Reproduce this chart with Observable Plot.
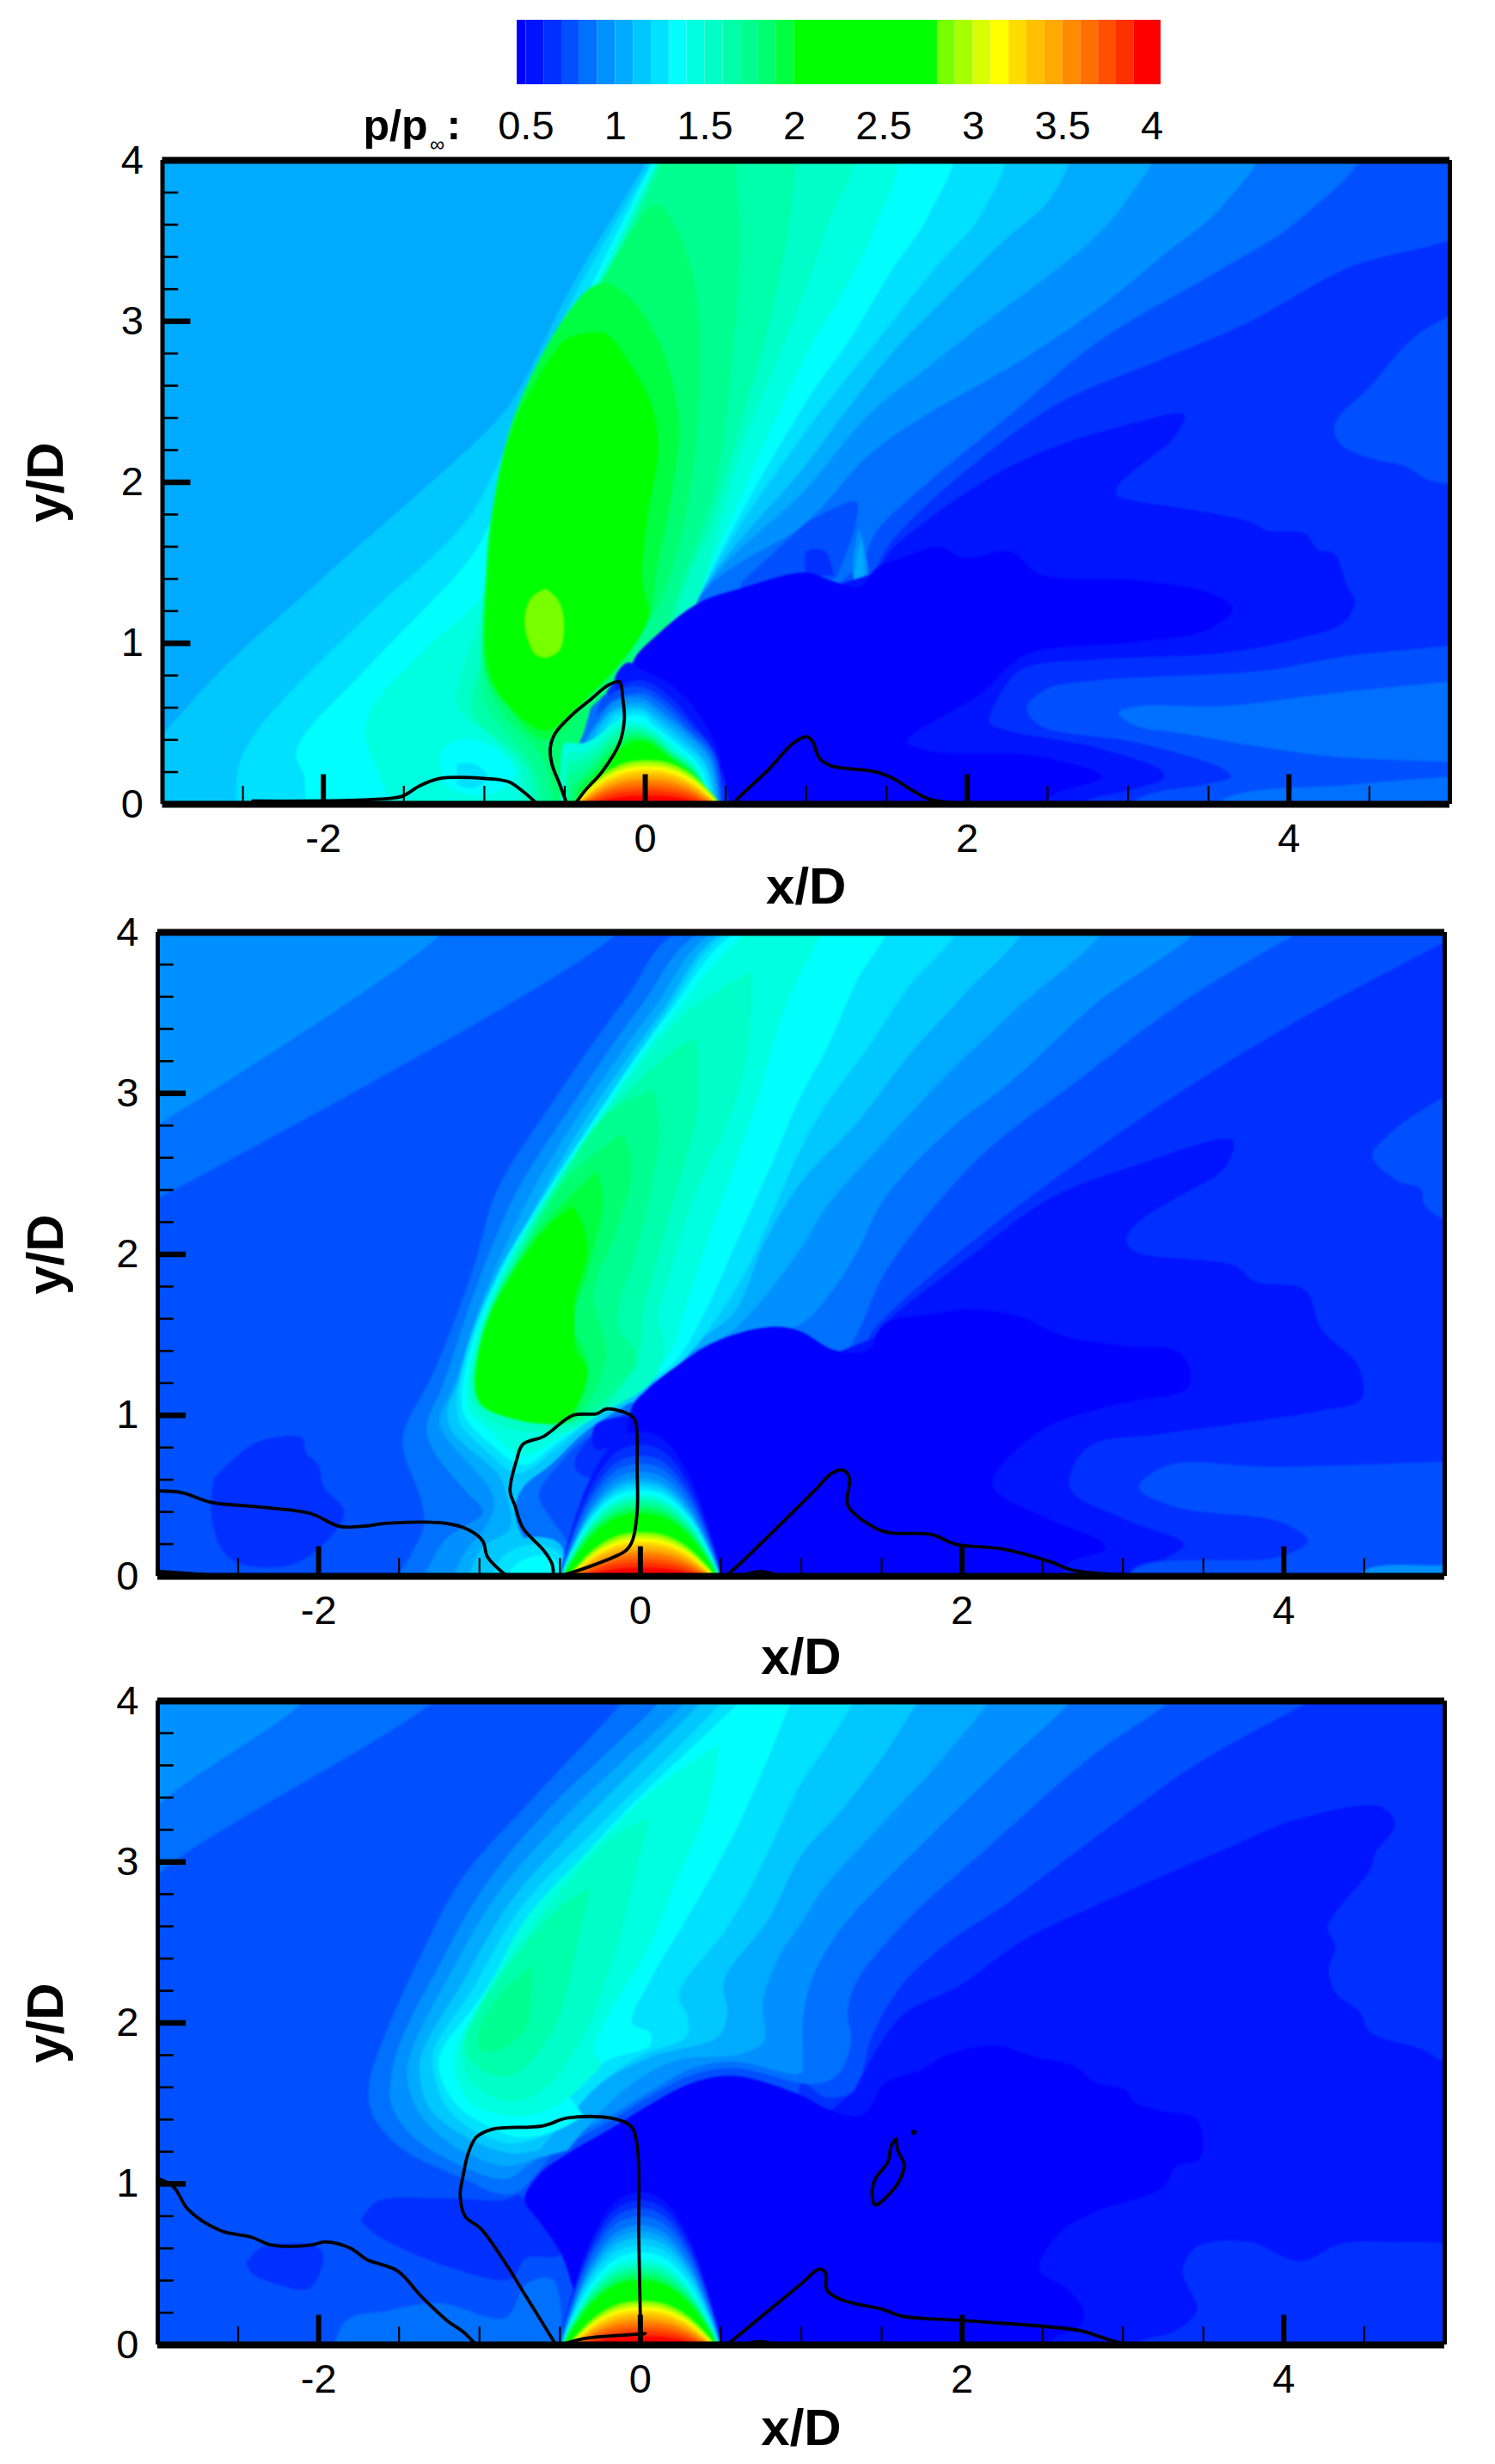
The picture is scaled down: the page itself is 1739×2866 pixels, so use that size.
<!DOCTYPE html>
<html>
<head>
<meta charset="utf-8">
<script src="https://cdn.jsdelivr.net/npm/d3@7"></script>
<script src="https://cdn.jsdelivr.net/npm/@observablehq/plot@0.6"></script>
<style>
html,body{margin:0;padding:0;background:#fff}
#chart{position:relative;width:1739px;height:2866px;overflow:hidden}
#chart svg{position:absolute;left:0;display:block}
</style>
</head>
<body>
<div id="chart"></div>
<script>
// colour bands of p/p_inf
const levels = [0.5,0.6,0.7,0.8,0.9,1.0,1.1,1.2,1.3,1.4,1.5,1.6,1.7,1.8,1.9,2.0,2.8,2.9,3.0,3.1,3.2,3.3,3.4,3.5,3.6,3.7,3.8,3.9];
const bandColors = ["#0000ff","#0014ff","#0030ff","#0050ff","#0070ff","#0090ff","#00aaff","#00c8ff","#00e0ff","#00ffff","#00ffe0","#00ffc8","#00ffaa","#00ff90","#00ff70","#00ff40","#00ff00","#78ff00","#a8ff00","#d8ff00","#ffff00","#ffdc00","#ffc000","#ffaa00","#ff8c00","#ff7000","#ff5000","#ff3000","#ff0000"];
const barTicks = [0.5,1,1.5,2,2.5,3,3.5,4];
const xMajor = [-2,0,2,4], xMinor = [-2.5,-1.5,-1,-0.5,0.5,1,1.5,2.5,3,3.5,4.5];
const yMajor = [1,2,3], yMinor = [0.2,0.4,0.6,0.8,1.2,1.4,1.6,1.8,2.2,2.4,2.6,2.8,3.2,3.4,3.6,3.8];
// normalised profile of the jet dome: [fraction of half width, fraction of apex height]
const domeProfile = [[-1,-0.3],[-1,0],[-0.85,0.33],[-0.6,0.7],[-0.3,0.94],[0,1],[0.3,0.94],[0.6,0.7],[0.85,0.33],[1,0],[1,-0.3]];
// jet dome bands: [value, left foot, right foot, apex height]
const jetCore = [[2.85,-0.44,0.46,0.275],[2.95,-0.43,0.45,0.26],[3.05,-0.43,0.45,0.245],[3.15,-0.42,0.44,0.23],[3.25,-0.42,0.44,0.215],[3.35,-0.41,0.43,0.195],[3.45,-0.41,0.43,0.175],[3.55,-0.4,0.42,0.155],[3.65,-0.39,0.41,0.135],[3.75,-0.38,0.4,0.11],[3.85,-0.36,0.38,0.085],[3.95,-0.33,0.35,0.055]];
const p2Dome = [[0.55,-0.5,0.5,0.9],[0.65,-0.5,0.5,0.82],[0.75,-0.5,0.5,0.75],[0.85,-0.5,0.5,0.7],[0.95,-0.49,0.49,0.65],[1.05,-0.49,0.49,0.61],[1.15,-0.49,0.49,0.585],[1.25,-0.49,0.49,0.56],[1.35,-0.49,0.49,0.535],[1.45,-0.49,0.49,0.51],[1.55,-0.48,0.48,0.49],[1.65,-0.48,0.48,0.475],[1.75,-0.48,0.48,0.455],[1.85,-0.48,0.48,0.435],[1.95,-0.47,0.47,0.415],[2.4,-0.47,0.47,0.39]];
const p3Dome = [[0.55,-0.5,0.5,0.95],[0.65,-0.5,0.5,0.9],[0.75,-0.5,0.5,0.85],[0.85,-0.5,0.5,0.8],[0.95,-0.49,0.49,0.745],[1.05,-0.49,0.49,0.705],[1.15,-0.49,0.49,0.665],[1.25,-0.49,0.49,0.62],[1.35,-0.48,0.48,0.575],[1.45,-0.48,0.48,0.535],[1.55,-0.48,0.48,0.51],[1.65,-0.48,0.48,0.485],[1.75,-0.48,0.48,0.465],[1.85,-0.48,0.48,0.445],[1.95,-0.47,0.47,0.42],[2.4,-0.47,0.47,0.4]];

// contour regions, painted in order: [value, x,y, x,y, ...] in x/D, y/D
const p1Rings = [
[0.65,-3.2,-0.2,-3.2,4.2,5.2,4.2,5.2,-0.2],
[0.75,-3.2,-0.2,-3.2,4.2,5.2,4.2,5.2,3.63,4.36,3.33,3.74,2.99,3.2,2.76,2.55,2.48,1.85,1.95,1.52,1.62,1.39,1.41,1.0,1.2,-0.2,-0.2],
[0.75,5.2,3.12,4.8,2.92,4.49,2.58,4.32,2.42,4.28,2.32,4.34,2.22,4.54,2.14,4.72,2.1,4.88,2.01,5.2,1.98],
[0.85,-3.2,-0.2,-3.2,4.2,4.45,4.1,4.05,3.62,3.59,3.33,2.81,2.87,2.27,2.42,1.77,2.01,1.44,1.7,1.34,1.5,1.0,1.2,-0.2,-0.2],
[0.95,-3.2,-0.2,-3.2,4.2,3.8,4.1,3.59,3.72,3.22,3.41,2.84,3.1,2.34,2.76,1.75,2.42,1.39,2.17,1.0,1.75,0.33,1.28,-0.2,-0.2],
[1.05,-3.2,-0.2,-3.2,4.2,3.15,4.1,2.99,3.75,2.76,3.49,2.5,3.28,2.11,2.99,1.75,2.71,1.39,2.42,1.0,1.96,0.33,1.28,-0.2,-0.2],
[1.15,-3.2,0.2,-2.65,0.82,-2.0,1.41,-0.89,2.42,-0.76,2.62,-0.45,3.23,0,3.98,0.06,4.1,2.62,4.1,2.53,3.78,2.24,3.51,1.9,3.18,1.54,2.81,1.23,2.42,1.0,2.11,0.33,1.28,-0.2,-0.2,-3.2,-0.2],
[1.25,-2.53,-0.2,-2.53,0.22,-2.41,0.46,-1.74,1.16,-1.12,1.75,-0.89,2.17,-0.72,2.55,-0.45,3.14,0.03,3.98,0.09,4.1,2.22,4.1,2.09,3.67,1.8,3.33,1.49,2.94,1.0,2.32,0.33,1.28,-0.2,-0.2],
[1.35,-2.12,-0.2,-2.12,0.17,-2.17,0.3,-2.14,0.4,-1.66,0.92,-1.04,1.6,-0.86,2.06,-0.68,2.48,-0.42,3.05,0.04,3.98,0.1,4.1,1.9,4.1,1.75,3.64,1.54,3.33,1.26,2.87,1.0,2.5,0.33,1.28,-0.2,-0.2],
[1.45,-1.48,-0.2,-1.66,0.2,-1.74,0.43,-1.69,0.61,-1.38,0.95,-0.99,1.34,-0.94,1.7,-0.81,2.11,-0.63,2.5,-0.4,3.03,0.06,3.98,0.12,4.1,1.55,4.1,1.41,3.54,1.23,3.18,1.0,2.79,0.33,1.28,-0.2,-0.2],
[1.55,-0.84,-0.2,-0.78,0.22,-1.17,0.61,-1.17,0.72,-1.02,1.18,-0.97,1.44,-0.93,1.7,-0.78,2.11,-0.6,2.5,-0.37,3.03,0.07,3.98,0.12,4.1,1.3,4.1,1.13,3.59,1.0,3.2,0.6,2.2,0.33,1.28,-0.2,-0.2],
[1.65,-0.69,-0.2,-0.73,0.22,-1.07,0.56,-1.07,0.72,-0.99,0.97,-0.97,1.34,-0.9,1.73,-0.77,2.14,-0.59,2.53,-0.36,3.03,0.08,3.98,0.13,4.1,0.98,4.1,0.94,3.98,0.9,3.64,0.77,2.99,0.59,2.35,0.41,1.75,0.23,1.31,-0.2,-0.2],
[1.75,-0.63,-0.2,-0.68,0.2,-0.99,0.61,-1.02,0.77,-1.0,1.18,-0.94,1.7,-0.76,2.22,-0.55,2.74,-0.34,3.07,0.1,3.98,0.15,4.1,0.6,4.1,0.57,3.98,0.59,3.51,0.54,2.74,0.43,1.96,0.25,1.44,0.2,1.3,-0.2,-0.2],
[1.35,-1.28,0.3,-1.2,0.39,-1.07,0.4,-0.91,0.33,-0.81,0.2,-0.9,0.09,-1.1,0.06,-1.25,0.12],
[1.25,-1.17,0.25,-1.06,0.25,-0.98,0.17,-1.07,0.1,-1.17,0.12],
[1.85,-0.55,-0.2,-0.63,0.27,-0.86,0.53,-0.97,0.72,-1.0,0.97,-0.97,1.57,-0.73,2.35,-0.45,2.94,-0.24,3.31,0.07,3.73,0.17,3.62,0.3,3.28,0.34,2.74,0.3,2.09,0.2,1.57,0.07,1.21,-0.06,1.0,-0.2,-0.2],
[1.95,-0.25,3.24,-0.34,3.21,-0.47,3.07,-0.71,2.66,-0.86,2.27,-0.97,1.7,-0.99,1.44,-0.99,0.82,-0.86,0.61,-0.62,0.4,-0.32,0.69,-0.06,1.0,0.03,1.18,0.07,1.44,0.17,1.96,0.21,2.37,0.12,2.79,-0.03,3.07,-0.16,3.2,-0.25,3.24],
[2.4,-0.34,2.93,-0.49,2.89,-0.63,2.71,-0.81,2.37,-0.91,2.01,-0.98,1.44,-0.98,0.87,-0.89,0.66,-0.62,0.46,-0.34,0.69,-0.19,0.84,0.02,1.16,-0.02,1.39,0.01,1.75,0.08,2.22,0.04,2.48,-0.11,2.76,-0.24,2.92,-0.34,2.93],
[2.85,-0.62,1.34,-0.71,1.28,-0.75,1.13,-0.69,0.94,-0.63,0.91,-0.53,0.96,-0.51,1.18,-0.55,1.28,-0.62,1.34],
[0.75,1.0,1.75,1.31,1.88,1.31,1.75,1.22,1.49,1.18,1.41,1.0,1.35,0.6,1.3,0.6,1.38],
[0.95,1.33,1.72,1.29,1.5,1.31,1.37,1.38,1.4,1.36,1.6],
[1.05,1.345,1.66,1.31,1.5,1.3,1.4,1.33,1.37,1.36,1.42,1.355,1.55],
[0.65,1.0,1.42,1.0,1.57,1.12,1.57,1.17,1.42],
[0.55,1.44,1.44,1.52,1.57,1.77,1.78,2.03,1.96,2.29,2.11,2.6,2.24,2.97,2.35,3.35,2.42,3.28,2.27,3.12,2.14,2.94,1.98,2.93,1.92,3.07,1.88,3.33,1.84,3.74,1.76,3.87,1.7,4.1,1.68,4.18,1.58,4.28,1.56,4.36,1.36,4.41,1.26,4.34,1.13,4.1,1.04,3.59,0.94,2.81,0.9,2.34,0.84,2.21,0.69,2.14,0.51,2.24,0.46,2.81,0.35,3.22,0.2,3.22,0.16,3.02,0.09,2.71,0,2.65,-0.2,1.0,-0.2,1.0,1.3],
[0.75,5.2,1.0,4.36,0.92,3.84,0.83,2.81,0.77,2.5,0.72,2.37,0.6,2.45,0.49,3.07,0.38,3.59,0.22,3.64,0.17,3.46,0.12,3.07,0.04,2.81,-0.2,5.2,-0.2],
[0.85,5.2,0.78,4.36,0.7,3.59,0.61,3.07,0.61,2.94,0.57,3.04,0.49,3.33,0.44,4.23,0.3,5.2,0.26],
[0.85,5.2,0.18,4.98,0.17,4.36,0.12,3.59,0.03,3.4,-0.2,5.2,-0.2],
[0.45,-0.1,-0.2,-0.1,0.75,-0.07,0.9,0.07,1.05,0.33,1.25,0.59,1.34,1.0,1.44,1.15,1.39,1.33,1.35,1.44,1.47,1.62,1.54,1.83,1.6,1.98,1.53,2.27,1.57,2.45,1.43,3.07,1.39,3.51,1.31,3.65,1.22,3.51,1.09,3.07,1.01,2.55,0.97,2.34,0.92,2.09,0.69,1.63,0.39,1.77,0.33,2.42,0.3,2.84,0.17,2.5,0.04,2.34,-0.2],
[0.85,-0.34,0.6,-0.38,0.45,-0.43,0.32,-0.43,-0.2,0.48,-0.2,0.3,0.6,-0.02,0.8,-0.17,0.76],
[0.75,-0.27,0.66,-0.3,0.56,-0.25,-0.2,0.49,-0.2,0.44,0.3,0.29,0.5,0.13,0.66,-0.02,0.74,-0.17,0.73],
[0.65,-0.24,0.7,-0.2,0.55,-0.15,-0.2,0.49,-0.2,0.45,0.3,0.31,0.53,0.14,0.7,-0.02,0.78,-0.17,0.8],
[0.55,0.5,-0.2,0.48,0,0.46,0.3,0.33,0.56,0.15,0.75,-0.01,0.83,-0.11,0.88,-0.19,0.78,-0.15,0.6,-0.1,-0.2],
[0.65,0.49,-0.2,0.44,0.3,0.3,0.5,0.14,0.68,-0.02,0.77,-0.14,0.74,-0.19,0.62,-0.15,-0.2],
[0.75,0.49,-0.2,0.44,0.3,0.29,0.48,0.13,0.64,-0.02,0.73,-0.19,0.7,-0.27,0.58,-0.25,-0.2],
[0.85,0.48,-0.2,0.42,0.3,0.27,0.46,0.12,0.61,-0.02,0.69,-0.19,0.65,-0.3,0.55,-0.38,0.43,-0.43,0.32,-0.43,-0.2],
[0.95,0.48,-0.2,0.41,0.28,0.25,0.46,0.1,0.58,-0.02,0.66,-0.19,0.64,-0.3,0.51,-0.37,0.41,-0.42,0.3,-0.42,-0.2],
[1.05,0.47,-0.2,0.4,0.27,0.24,0.44,0.09,0.56,-0.02,0.63,-0.19,0.6,-0.29,0.5,-0.36,0.4,-0.41,0.27,-0.41,-0.2],
[1.15,0.47,-0.2,0.38,0.25,0.22,0.42,0.08,0.53,-0.02,0.6,-0.19,0.58,-0.29,0.47,-0.34,0.37,-0.39,0.24,-0.39,-0.2],
[1.25,0.46,-0.2,0.37,0.24,0.2,0.4,0.07,0.51,-0.02,0.58,-0.19,0.55,-0.26,0.45,-0.31,0.37,-0.36,0.22,-0.36,-0.2],
[1.35,0.46,-0.2,0.35,0.22,0.19,0.38,0.05,0.49,-0.02,0.55,-0.16,0.53,-0.24,0.43,-0.29,0.33,-0.33,0.2,-0.34,-0.2],
[1.45,0.46,-0.2,0.33,0.22,0.17,0.37,0.03,0.48,-0.1,0.52,-0.2,0.5,-0.3,0.42,-0.38,0.38,-0.44,0.38,-0.5,0.38,-0.52,0.3,-0.52,-0.2],
[1.55,0.46,-0.2,0.33,0.2,0.16,0.35,0.03,0.46,-0.1,0.49,-0.2,0.46,-0.3,0.38,-0.38,0.33,-0.46,0.32,-0.5,0.28,-0.5,-0.2],
[1.65,0.46,-0.2,0.33,0.19,0.15,0.34,0.02,0.45,-0.1,0.47,-0.2,0.43,-0.3,0.34,-0.4,0.28,-0.48,0.25,-0.48,-0.2],
[1.75,0.46,-0.2,0.33,0.18,0.15,0.33,0.02,0.43,-0.1,0.45,-0.2,0.4,-0.3,0.3,-0.4,0.22,-0.47,0.18,-0.47,-0.2],
[1.85,0.46,-0.2,0.33,0.17,0.15,0.32,0.02,0.42,-0.1,0.43,-0.2,0.37,-0.3,0.26,-0.4,0.16,-0.46,0.1,-0.46,-0.2],
[1.95,0.46,-0.2,0.33,0.16,0.15,0.31,0.02,0.4,-0.1,0.41,-0.2,0.34,-0.3,0.22,-0.42,0.08,-0.44,-0.2],
[2.4,0.46,-0.2,0.33,0.14,0.15,0.29,0.0,0.39,-0.1,0.38,-0.2,0.3,-0.3,0.18,-0.4,0.04,-0.42,-0.2]
];
const p2Rings = [
[0.75,-3.2,-0.2,-3.2,4.2,5.2,4.2,5.2,-0.2],
[0.95,-3.2,2.68,-1.25,3.98,-1.1,4.2,-3.2,4.2],
[0.85,-3.2,2.24,-0.16,3.98,0,4.2,-3.2,4.2],
[0.95,-3.2,2.68,-1.25,3.98,-1.1,4.2,-3.2,4.2],
[0.65,-2.65,0.61,-2.41,0.82,-2.21,0.87,-2.1,0.86,-2.08,0.77,-2.0,0.69,-1.97,0.56,-1.84,0.4,-1.97,0.2,-2.18,0.07,-2.52,0.09,-2.62,0.2,-2.67,0.43,-2.65,0.61],
[0.65,1.0,1.3,1.39,1.41,1.44,1.52,1.65,1.73,2.04,2.06,2.55,2.45,3.33,2.99,4.1,3.46,4.98,3.93,5.2,4.05,5.2,-0.2,0.3,-0.2],
[0.75,5.2,3.08,4.98,2.97,4.67,2.76,4.55,2.61,4.72,2.45,4.85,2.41,4.88,2.3,5.2,2.1],
[0.85,-1.64,-0.2,-1.35,0.3,-1.36,0.46,-1.47,0.77,-1.47,0.9,-1.28,1.28,-1.04,1.91,-0.89,2.4,-0.55,2.94,-0.09,3.59,0.28,4.03,4.3,4.1,4.06,3.98,3.33,3.54,2.68,3.05,2.17,2.66,1.78,2.24,1.5,1.85,1.34,1.49,1.2,1.3,0.3,0.9,0.3,-0.2],
[0.95,-1.43,-0.2,-1.22,0.22,-0.98,0.4,-1.07,0.51,-1.28,0.77,-1.33,0.92,-1.22,1.21,-1.02,1.8,-0.78,2.37,-0.45,2.89,0,3.54,0.43,4.03,3.5,4.1,2.81,3.54,2.3,3.07,1.94,2.79,1.52,2.35,1.34,2.0,1.16,1.73,1.0,1.57,0.2,1.25,0.3,-0.2],
[1.05,-1.25,-0.2,-1.09,0.15,-0.97,0.3,-0.91,0.48,-1.22,0.88,-1.25,0.97,-1.15,1.21,-0.97,1.75,-0.71,2.32,-0.42,2.81,0.07,3.51,0.51,4.03,2.9,4.1,2.3,3.49,1.91,3.12,1.5,2.68,1.16,2.3,1.0,2.04,0.59,1.54,0.2,1.28,0.2,-0.2],
[1.15,-1.12,-0.2,-0.99,0.17,-0.81,0.3,-0.84,0.53,-0.89,0.64,-1.17,0.9,-1.2,1.03,-1.13,1.21,-0.94,1.73,-0.65,2.3,-0.37,2.79,0.12,3.49,0.56,4.03,2.4,4.1,1.99,3.59,1.68,3.25,1.34,2.81,1.0,2.45,0.77,2.07,0.59,1.65,0.2,1.28,0.2,-0.2],
[1.25,-0.34,0.95,-0.55,0.77,-0.76,0.64,-0.97,0.79,-1.12,0.95,-1.14,1.1,-1.07,1.44,-0.89,1.88,-0.63,2.32,-0.34,2.76,0.13,3.46,0.59,4.03,2.0,4.1,1.65,3.64,1.39,3.25,1.16,2.94,1.0,2.66,0.8,2.21,0.62,1.83,0.2,1.28,-0.1,1.15],
[1.35,-0.29,0.99,-0.53,0.82,-0.73,0.69,-0.94,0.83,-1.09,0.99,-1.11,1.13,-1.04,1.47,-0.86,1.91,-0.59,2.37,-0.32,2.79,0.17,3.49,0.64,4.03,1.55,4.1,1.34,3.69,1.16,3.28,1.0,2.99,0.82,2.57,0.59,2.06,0.43,1.7,0.2,1.32,-0.1,1.15],
[1.45,-0.27,1.0,-0.5,0.86,-0.73,0.75,-0.93,0.9,-1.07,1.03,-1.08,1.16,-1.02,1.49,-0.84,1.93,-0.56,2.4,-0.29,2.81,0.21,3.5,0.72,4.03,1.2,4.1,1.12,3.98,0.89,3.51,0.72,2.94,0.46,2.2,0.3,1.73,0.2,1.42,0.12,1.3,-0.1,1.15],
[1.55,0.69,3.76,0.25,3.47,-0.27,2.81,-0.55,2.4,-0.81,1.96,-0.99,1.54,-1.06,1.16,-1.03,1.05,-0.89,0.94,-0.47,0.9,-0.21,1.03,0.07,1.21,0.15,1.41,0.11,1.62,0.17,1.83,0.33,2.35,0.51,2.74,0.64,3.12,0.69,3.51,0.69,3.76],
[1.65,0.35,3.34,0.23,3.28,-0.24,2.84,-0.53,2.42,-0.78,1.98,-0.97,1.57,-1.04,1.16,-0.99,1.05,-0.71,0.97,-0.42,0.95,-0.19,1.08,-0.01,1.39,0.02,1.65,0.1,1.96,0.23,2.42,0.35,2.87,0.35,3.34],
[1.75,0.08,3.02,-0.21,2.87,-0.49,2.45,-0.75,2.01,-0.94,1.62,-1.03,1.18,-0.97,1.06,-0.63,0.96,-0.4,0.97,-0.19,1.13,-0.02,1.34,-0.14,1.57,-0.03,2.01,0.07,2.42,0.12,2.79,0.08,3.02],
[1.85,-0.11,2.75,-0.45,2.48,-0.72,2.04,-0.93,1.65,-1.02,1.19,-0.97,1.06,-0.63,0.95,-0.42,0.97,-0.21,1.36,-0.29,1.75,-0.14,2.17,-0.05,2.55,-0.11,2.75],
[1.95,-0.27,2.52,-0.45,2.35,-0.71,2.04,-0.91,1.67,-1.02,1.21,-0.97,1.06,-0.63,0.95,-0.45,0.96,-0.34,1.18,-0.33,1.34,-0.42,1.57,-0.32,1.91,-0.23,2.35,-0.27,2.52],
[2.4,-0.42,2.3,-0.58,2.17,-0.76,1.93,-0.94,1.62,-1.02,1.31,-1.02,1.13,-0.97,1.05,-0.63,0.95,-0.45,0.99,-0.33,1.28,-0.4,1.41,-0.41,1.57,-0.4,1.75,-0.33,2.01,-0.36,2.19,-0.42,2.3],
[0.55,1.45,1.48,1.52,1.57,2.04,1.98,2.55,2.35,3.07,2.55,3.68,2.71,3.66,2.58,3.59,2.5,3.33,2.35,3.12,2.22,3.02,2.1,3.07,2.02,3.69,1.93,3.82,1.83,4.13,1.78,4.23,1.54,4.46,1.31,4.48,1.1,4.23,1.03,3.72,0.95,3.2,0.88,2.81,0.82,2.68,0.66,2.68,0.53,3.02,0.35,3.38,0.2,3.28,0.12,3.05,0.04,3.0,-0.2,1.0,-0.2,1.0,1.3],
[0.75,5.2,0.72,3.95,0.68,3.28,0.69,3.1,0.55,3.33,0.43,3.97,0.34,4.15,0.22,3.97,0.12,3.07,0.04,3.0,-0.2,5.2,-0.2],
[0.95,4.4,-0.2,4.49,0.03,4.98,0.07,5.2,0.08,5.2,-0.2],
[0.85,-0.06,1.08,-0.34,0.9,-0.55,0.7,-0.73,0.55,-0.78,0.4,-0.71,0.22,-0.58,0.15,-0.47,-0.2,0,-0.2,0,1.08],
[0.75,-0.11,1.01,-0.34,0.86,-0.51,0.69,-0.63,0.51,-0.55,0.35,-0.45,0.2,-0.4,-0.2,0,-0.2,0,1.0],
[0.65,-0.11,0.99,-0.29,0.88,-0.4,0.74,-0.4,0.66,-0.29,0.61,-0.19,0.66,-0.06,0.66,0,0.66,0,1.0],
[0.55,-0.06,1.0,-0.28,0.94,-0.28,0.79,-0.06,0.84,0.1,0.8,0.1,1.0],
[0.45,-0.06,-0.2,-0.06,1.03,0.04,1.16,0.23,1.31,0.43,1.44,0.64,1.52,0.85,1.55,1.0,1.52,1.19,1.41,1.34,1.39,1.42,1.41,1.52,1.57,1.83,1.63,2.04,1.66,2.37,1.61,2.61,1.5,3.02,1.43,3.33,1.4,3.42,1.28,3.39,1.16,3.07,1.09,2.81,1.03,2.48,0.9,2.19,0.57,2.55,0.35,2.86,0.22,2.89,0.17,2.65,0.07,2.55,-0.2],
[1.15,-1.07,-0.2,-0.91,0.15,-0.71,0.24,-0.5,0.2,-0.45,-0.2],
[1.25,-0.99,-0.2,-0.86,0.12,-0.65,0.2,-0.48,0.12,-0.46,-0.2],
[1.35,-0.88,-0.2,-0.78,0.07,-0.6,0.13,-0.5,0.07,-0.48,-0.2]
];
const p3Rings = [
[0.75,-3.2,-0.2,-3.2,4.2,5.2,4.2,5.2,-0.2],
[0.85,-3.2,2.74,-2.89,3.01,-1.28,4.0,-1.1,4.2,-3.2,4.2],
[0.95,-3.2,3.1,-2.99,3.36,-2.09,4.0,-1.95,4.2,-3.2,4.2],
[0.65,-2.45,0.51,-2.35,0.61,-2.01,0.61,-1.97,0.54,-2.06,0.35,-2.27,0.38,-2.42,0.45,-2.45,0.51],
[0.65,-1.74,0.77,-1.64,0.89,-1.23,0.91,-0.84,0.9,-0.76,0.93,-0.72,0.9,-0.5,0.56,-0.71,0.54,-0.81,0.41,-1.18,0.48,-1.62,0.67,-1.74,0.77],
[0.85,-1.96,-0.2,-1.83,0.15,-1.59,0.21,-1.25,0.26,-0.84,0.17,-0.71,0.38,-0.55,0.41,-0.5,0.28,-0.49,-0.2],
[0.65,1.0,1.3,1.0,1.63,1.15,1.54,1.33,1.58,1.44,1.92,1.62,2.23,1.9,2.49,2.29,2.75,2.81,3.14,3.46,3.61,4.17,4.0,4.35,4.1,5.2,4.1,5.2,-0.2,1.0,-0.2],
[0.85,-0.55,1.19,-0.76,0.95,-0.89,0.94,-1.07,1.02,-1.44,1.19,-1.59,1.32,-1.68,1.47,-1.68,1.66,-1.59,1.92,-1.38,2.39,-1.1,2.91,-0.71,3.35,-0.11,4.0,-0.05,4.1,3.4,4.1,3.3,4.0,2.81,3.66,2.16,3.09,1.64,2.62,1.33,2.23,1.29,2.05,1.31,1.89,1.23,1.68,1.07,1.62,0.59,1.72,0.33,1.68,0.07,1.55,-0.19,1.39,-0.45,1.25],
[0.95,-0.71,1.11,-0.84,1.03,-1.23,1.17,-1.44,1.32,-1.55,1.5,-1.55,1.66,-1.49,1.89,-1.25,2.36,-0.97,2.85,-0.58,3.32,0.12,4.0,0.18,4.1,2.75,4.1,2.68,4.0,2.21,3.56,1.75,3.11,1.25,2.59,1.07,2.28,1.01,2.02,1.01,1.79,1.0,1.69,0.59,1.76,0.33,1.72,0.07,1.58,-0.19,1.42,-0.45,1.29],
[1.05,-0.71,1.14,-0.84,1.11,-1.18,1.25,-1.38,1.45,-1.45,1.68,-1.41,1.86,-1.18,2.31,-0.89,2.8,-0.45,3.3,0.28,4.0,0.35,4.1,2.22,4.1,2.17,4.0,1.85,3.61,1.46,3.19,1.15,2.85,1.0,2.62,0.85,2.39,0.76,2.12,0.77,1.89,0.64,1.81,0.2,1.76,-0.14,1.55,-0.45,1.21],
[1.15,-0.63,1.21,-0.81,1.19,-1.1,1.3,-1.31,1.47,-1.37,1.66,-1.36,1.81,-1.1,2.26,-0.81,2.75,-0.37,3.24,0.38,4.0,0.45,4.1,1.8,4.1,1.73,4.0,1.51,3.66,1.25,3.32,1.0,3.04,0.8,2.65,0.52,2.26,0.54,2.07,0.49,1.92,0.07,1.79,-0.24,1.63,-0.45,1.42],
[1.25,-0.5,1.34,-0.79,1.25,-1.05,1.34,-1.2,1.47,-1.27,1.63,-1.29,1.81,-1.05,2.2,-0.74,2.72,-0.24,3.24,0.51,4.0,0.58,4.1,1.38,4.1,1.33,4.0,1.15,3.71,1.0,3.49,0.72,2.91,0.54,2.59,0.24,2.18,0.29,2.05,0.29,1.92,-0.01,1.79,-0.24,1.63,-0.37,1.5],
[1.35,-0.35,1.42,-0.55,1.32,-0.76,1.29,-0.97,1.37,-1.11,1.46,-1.23,1.63,-1.25,1.79,-1.0,2.15,-0.66,2.67,-0.14,3.27,0.62,4.0,0.7,4.1,1.0,4.1,0.94,4.0,0.8,3.66,0.59,3.19,0.33,2.72,0.07,2.28,-0.05,2.0,0.06,1.94,0.06,1.86,-0.22,1.76,-0.45,1.55],
[1.45,0.49,3.73,0.12,3.48,-0.35,3.04,-0.71,2.65,-0.94,2.23,-1.14,1.86,-1.16,1.73,-1.05,1.5,-0.76,1.42,-0.55,1.47,-0.35,1.62,-0.24,1.76,-0.29,1.81,-0.19,2.07,0.04,2.44,0.2,2.83,0.41,3.32,0.49,3.73],
[1.55,0.06,3.27,-0.16,3.17,-0.53,2.78,-0.86,2.33,-1.05,2.02,-1.11,1.81,-1.05,1.63,-0.79,1.51,-0.55,1.63,-0.42,1.81,-0.29,2.05,-0.14,2.49,-0.01,3.01,0.06,3.27],
[1.65,-0.31,2.84,-0.5,2.72,-0.84,2.33,-1.02,2.05,-1.09,1.84,-0.97,1.7,-0.79,1.68,-0.55,1.94,-0.45,2.23,-0.37,2.59,-0.31,2.84],
[1.75,-0.67,2.36,-0.89,2.15,-1.01,1.92,-0.99,1.83,-0.86,1.84,-0.71,1.97,-0.68,2.15,-0.67,2.36],
[0.55,1.33,1.58,1.62,2.04,1.98,2.23,2.39,2.52,2.81,2.72,3.59,3.06,4.1,3.27,4.61,3.34,4.69,3.23,4.57,3.06,4.54,2.96,4.31,2.67,4.27,2.59,4.32,2.48,4.28,2.33,4.32,2.19,4.47,2.07,4.54,1.94,4.85,1.84,4.98,1.77,5.2,1.75,5.2,0.68,4.83,0.64,4.36,0.63,4.1,0.52,3.79,0.64,3.46,0.61,3.37,0.46,3.46,0.22,3.33,0.09,3.07,0,3.02,-0.2,1.0,-0.2,1.0,1.3],
[0.45,-0.2,-0.2,-0.4,0.3,-0.49,0.56,-0.63,0.77,-0.72,0.9,-0.63,1.06,-0.45,1.19,-0.19,1.34,0.07,1.5,0.33,1.63,0.59,1.67,1.0,1.55,1.15,1.47,1.36,1.42,1.44,1.49,1.51,1.62,1.75,1.71,1.9,1.8,2.21,1.86,2.45,1.79,2.7,1.73,2.83,1.63,3.02,1.58,3.07,1.51,3.25,1.45,3.46,1.4,3.48,1.16,3.33,1.11,3.25,0.98,2.81,0.82,2.6,0.69,2.48,0.47,2.65,0.35,2.76,0.2,2.73,0.12,2.55,0.02,2.5,-0.2]
];
// black sonic-line traces: x,y, x,y, ...
const p1Lines = [
[-2.44,0.02,-2.08,0.02,-1.69,0.03,-1.51,0.05,-1.41,0.11,-1.28,0.16,-0.99,0.16,-0.85,0.14,-0.76,0.08,-0.68,0.01],
[-0.49,0.01,-0.53,0.12,-0.58,0.25,-0.59,0.35,-0.56,0.44,-0.45,0.56,-0.34,0.65,-0.23,0.74,-0.16,0.76,-0.14,0.66,-0.13,0.53,-0.16,0.38,-0.27,0.2,-0.37,0.09,-0.43,0.01],
[0.55,0.01,0.61,0.07,0.77,0.22,0.92,0.38,1.0,0.42,1.04,0.39,1.08,0.29,1.15,0.24,1.44,0.2,1.54,0.16,1.67,0.08,1.77,0.03,1.9,0.01]
];
const p2Lines = [
[-2.98,0.53,-2.85,0.52,-2.67,0.46,-2.36,0.43,-2.05,0.39,-1.87,0.31,-1.74,0.31,-1.56,0.33,-1.22,0.33,-1.07,0.29,-0.98,0.22,-0.95,0.12,-0.84,0.01],
[-2.98,0.03,-2.7,0.01],
[-0.54,0.01,-0.55,0.08,-0.6,0.16,-0.73,0.3,-0.78,0.44,-0.81,0.53,-0.77,0.72,-0.73,0.82,-0.6,0.87,-0.42,1.0,-0.27,1.01,-0.21,1.04,-0.06,1.0,-0.03,0.96,-0.02,0.66,-0.02,0.4,-0.05,0.22,-0.09,0.16,-0.29,0.07,-0.47,0.01],
[0.54,0.01,0.61,0.07,1.0,0.45,1.1,0.55,1.19,0.64,1.26,0.66,1.3,0.61,1.29,0.44,1.46,0.3,1.55,0.27,1.81,0.26,1.96,0.2,2.25,0.17,2.55,0.09,2.68,0.04,3.0,0.01],
[0.62,0,0.74,0.03,0.88,0]
];
const p3Lines = [
[-2.99,1.03,-2.9,0.98,-2.81,0.84,-2.61,0.71,-2.42,0.67,-2.29,0.62,-2.05,0.62,-1.96,0.64,-1.8,0.6,-1.7,0.53,-1.51,0.46,-1.36,0.3,-1.2,0.15,-1.1,0.08,-1.03,0.01],
[-0.53,0.01,-0.71,0.3,-0.84,0.51,-0.99,0.72,-1.09,0.8,-1.12,0.93,-1.1,1.06,-1.07,1.19,-1.02,1.29,-0.92,1.34,-0.61,1.36,-0.45,1.41,-0.19,1.41,-0.06,1.36,-0.02,1.24,-0.01,0.67,0,0.15,0,0.07,0.03,0.07,-0.35,0.04,-0.46,0.01],
[0.55,0.01,1.0,0.38,1.11,0.47,1.15,0.45,1.16,0.34,1.25,0.28,1.51,0.22,1.62,0.18,2.03,0.15,2.73,0.09,2.86,0.05,3.0,0.01,3.12,0.01],
[1.59,1.28,1.56,1.24,1.54,1.14,1.46,1.03,1.44,0.95,1.46,0.87,1.55,0.94,1.62,1.04,1.64,1.12,1.6,1.21,1.59,1.28],
[0.62,0,0.74,0.02,0.86,0]
];
const p3Dot = [[1.7,1.32]];

const FONT = "'Liberation Sans', Arial, sans-serif";
const colorScale = {type:"threshold", domain:levels, range:bandColors};

function ringPoints(rings){
  const out=[];
  rings.forEach((r,i)=>{ for(let k=1;k<r.length;k+=2) out.push({id:i,v:r[0],x:r[k],y:r[k+1]}); });
  return out;
}
function domeRings(list){
  return list.map(([v,xL,xR,h])=>{
    const c=(xL+xR)/2,w=(xR-xL)/2,r=[v];
    domeProfile.forEach(([t,f])=>r.push(c+t*w,f<0?-0.2:f*h));
    return r;
  });
}
function linePoints(lines){
  const out=[];
  lines.forEach((l,i)=>{ for(let k=0;k<l.length;k+=2) out.push({id:i,x:l[k],y:l[k+1]}); });
  return out;
}

function panel({rings,lines,dots,frameTop,marginLeft,marginRight,xLabelDy}){
  const marginTop=60, frameHeight=749, marginBottom=130;
  const svg = Plot.plot({
    width:1739,height:marginTop+frameHeight+marginBottom,marginTop,marginLeft,marginRight,marginBottom,
    style:{fontFamily:FONT,background:"transparent",color:"black"},
    x:{domain:[-3,5]}, y:{domain:[0,4]}, color:colorScale,
    marks:[
      Plot.line(ringPoints(rings),{x:"x",y:"y",z:"id",fill:"v",stroke:"none",curve:"catmull-rom",clip:true,imageFilter:"blur(1.2px)"}),
      Plot.line(linePoints(lines),{x:"x",y:"y",z:"id",stroke:"black",strokeWidth:3.8,curve:"catmull-rom",clip:true}),
      dots?Plot.dot(dots,{x:d=>d[0],y:d=>d[1],r:3,fill:"black",stroke:"none"}):null,
      Plot.ruleX(xMajor,{y1:0,y2:0.184,stroke:"black",strokeWidth:6}),
      Plot.ruleX(xMinor,{y1:0,y2:0.112,stroke:"black",strokeWidth:2.2}),
      Plot.ruleY(yMajor,{x1:-3,x2:-2.824,stroke:"black",strokeWidth:6.5}),
      Plot.ruleY(yMinor,{x1:-3,x2:-2.9,stroke:"black",strokeWidth:2.6}),
      Plot.ruleY([0,4],{stroke:"black",strokeWidth:8}),
      Plot.ruleX([-3,5],{stroke:"black",strokeWidth:5}),
      Plot.axisX({ticks:xMajor,tickSize:0,tickPadding:22,fontSize:47,label:null,tickFormat:d=>String(d)}),
      Plot.axisY({ticks:[0,1,2,3,4],tickSize:0,tickPadding:22,fontSize:47,label:null,tickFormat:d=>String(d)}),
      Plot.text(["x/D"],{frameAnchor:"bottom",lineAnchor:"middle",dy:xLabelDy,fontSize:60,fontWeight:"bold",fill:"black"}),
      Plot.text(["y/D"],{frameAnchor:"left",textAnchor:"middle",lineAnchor:"middle",dx:-(marginLeft-53),rotate:-90,fontSize:60,fontWeight:"bold",fill:"black"})
    ]
  });
  svg.style.top=(frameTop-marginTop)+"px";
  return svg;
}

const barBands = [0.45,...levels].map((a,i)=>({a,b:i<levels.length?levels[i]:4.05,v:(a+(i<levels.length?levels[i]:4.05))/2}));
const bar = Plot.plot({
  width:1739,height:220,marginTop:23,marginBottom:122,marginLeft:601,marginRight:389,
  style:{fontFamily:FONT,background:"transparent",color:"black"},
  x:{domain:[0.45,4.05]}, y:{domain:[0,1],axis:null}, color:colorScale,
  marks:[
    Plot.rect(barBands,{x1:"a",x2:"b",y1:0,y2:1,fill:"v",stroke:"none"}),
    Plot.axisX({ticks:barTicks,tickSize:0,tickPadding:30,fontSize:47,label:null,tickFormat:d=>String(d)}),
    Plot.text(["p/p"],{x:0.45,frameAnchor:"bottom",lineAnchor:"middle",dx:-104,dy:48,textAnchor:"end",fontSize:50,fontWeight:"bold",fill:"black"}),
    Plot.text(["∞"],{x:0.45,frameAnchor:"bottom",lineAnchor:"middle",dx:-93,dy:70,textAnchor:"middle",fontSize:24,fill:"black"}),
    Plot.text([":"],{x:0.45,frameAnchor:"bottom",lineAnchor:"middle",dx:-82,dy:47,textAnchor:"start",fontSize:50,fontWeight:"bold",fill:"black"})
  ]
});
bar.style.top="0px";

const root=document.getElementById("chart");
root.append(
  bar,
  panel({rings:[...p1Rings,...domeRings(jetCore)],lines:p1Lines,frameTop:185.6,marginLeft:188.5,marginRight:53,xLabelDy:96}),
  panel({rings:[...p2Rings,...domeRings(p2Dome),...domeRings(jetCore)],lines:p2Lines,frameTop:1083.6,marginLeft:183,marginRight:59,xLabelDy:94}),
  panel({rings:[...p3Rings,...domeRings(p3Dome),...domeRings(jetCore)],lines:p3Lines,dots:p3Dot,frameTop:1978,marginLeft:183,marginRight:59,xLabelDy:97})
);
</script>
</body>
</html>
